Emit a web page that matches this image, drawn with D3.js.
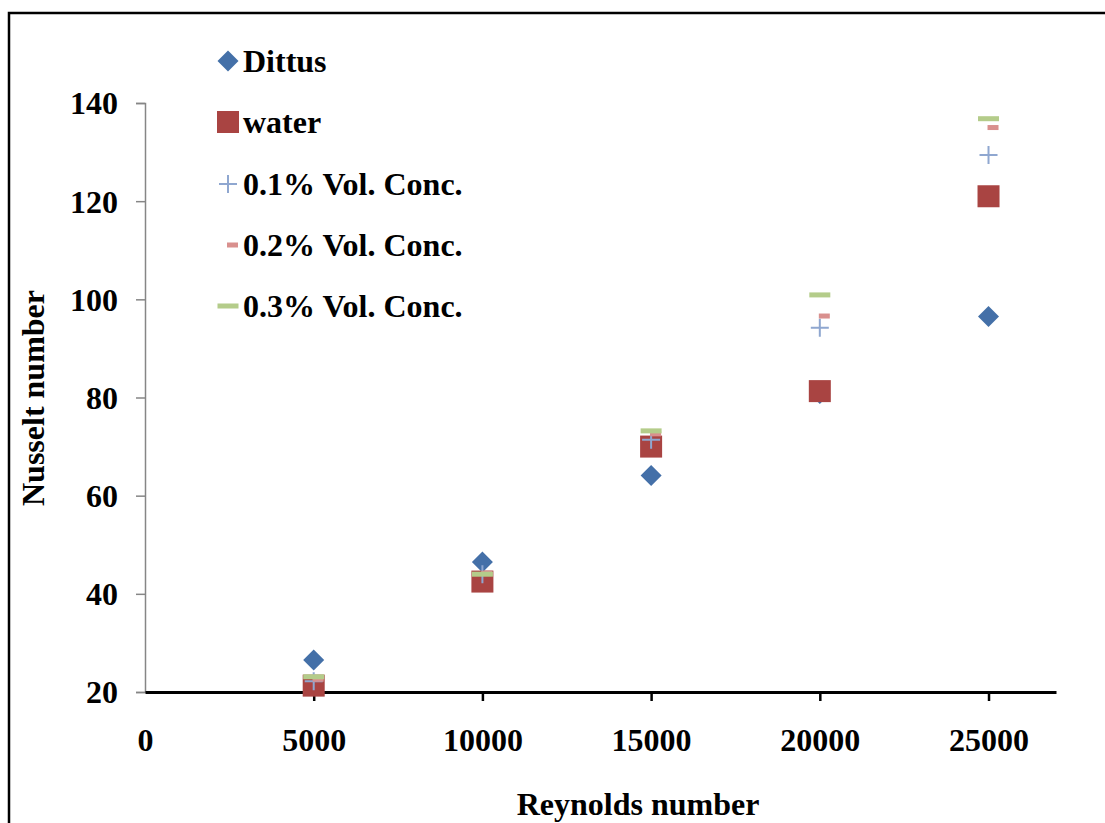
<!DOCTYPE html>
<html><head><meta charset="utf-8">
<script src="https://cdn.jsdelivr.net/npm/d3@7/dist/d3.min.js"></script>
<style>body{margin:0;background:#fff}svg{display:block}text{font-family:"Liberation Serif","Times New Roman",serif;font-weight:bold;fill:#000}</style>
</head><body>
<script>
const reynolds = [5000, 10000, 15000, 20000, 25000];
const dittus = [26.5, 46.5, 64.1, 80.8, 96.5];
const water = [21.3, 42.5, 70.0, 81.3, 121.0];
const conc01 = [22.2, 44.0, 71.4, 94.2, 129.4];
const conc02 = [22.6, 44.2, 72.6, 96.6, 135.0];
const conc03 = [23.1, 44.0, 73.2, 100.9, 136.8];
const seriesNames = ["Dittus", "water", "0.1% Vol. Conc.", "0.2% Vol. Conc.", "0.3% Vol. Conc."];
const xTicks = [0, 5000, 10000, 15000, 20000, 25000];
const yTicks = [20, 40, 60, 80, 100, 120, 140];

const W = 1105, H = 823, FS = 32;
const svg = d3.select("body").append("svg").attr("width", W).attr("height", H);
svg.append("rect").attr("x", 9).attr("y", 13).attr("width", W).attr("height", H)
  .attr("fill", "none").attr("stroke", "#000").attr("stroke-width", 2.5);

const x = d3.scaleLinear().domain([0, 27000]).range([145, 1056]);
const y = d3.scaleLinear().domain([20, 140]).range([692, 103]);

// y axis
const ya = svg.append("g").attr("transform", "translate(145,0)")
  .call(d3.axisLeft(y).tickValues(yTicks).tickSize(9).tickPadding(0).tickFormat(d3.format("d")));
ya.select(".domain").attr("stroke", "#868686").attr("stroke-width", 1.5);
ya.selectAll(".tick line").attr("stroke", "#868686").attr("stroke-width", 1.5);
ya.selectAll(".tick text").attr("x", -27).attr("dy", "0.34em").attr("font-size", FS)
  .style("font-family", "'Liberation Serif',serif").style("font-weight", "bold").attr("fill", "#000");

// x axis
const xa = svg.append("g").attr("transform", "translate(0,692)")
  .call(d3.axisBottom(x).tickValues(xTicks).tickSize(9).tickSizeOuter(0).tickPadding(0).tickFormat(d3.format("d")));
xa.select(".domain").attr("stroke", "#000").attr("stroke-width", 3);
xa.selectAll(".tick line").attr("stroke", "#000").attr("stroke-width", 2.5);
xa.selectAll(".tick").filter(d => d === 0).select("line").remove();
xa.selectAll(".tick text").attr("y", 59).attr("dy", 0).attr("font-size", FS)
  .style("font-family", "'Liberation Serif',serif").style("font-weight", "bold").attr("fill", "#000");

// titles
svg.append("text").attr("x", 638).attr("y", 815).attr("text-anchor", "middle").attr("font-size", FS).text("Reynolds number");
svg.append("text").attr("transform", "translate(44,398) rotate(-90)").attr("text-anchor", "middle").attr("font-size", FS).text("Nusselt number");

const C = {dittus: "#4470A8", water: "#A94442", c1: "#8FA7D0", c2: "#D9908E", c3: "#B4CC8A"};

function diamond(g, cx, cy) { g.append("path").attr("d", `M${cx},${cy-10.5}L${cx+10.5},${cy}L${cx},${cy+10.5}L${cx-10.5},${cy}Z`).attr("fill", C.dittus); }
function square(g, cx, cy) { g.append("rect").attr("x", cx-11).attr("y", cy-11).attr("width", 22).attr("height", 22).attr("fill", C.water); }
function cross(g, cx, cy) { g.append("path").attr("d", `M${cx-9},${cy}H${cx+9}M${cx},${cy-9}V${cy+9}`).attr("stroke", C.c1).attr("stroke-width", 2).attr("fill", "none"); }
function dash2(g, cx, cy) { g.append("rect").attr("x", cx-1).attr("y", cy-2.5).attr("width", 11).attr("height", 5).attr("fill", C.c2); }
function dash3(g, cx, cy) { g.append("rect").attr("x", cx-10.5).attr("y", cy-2.5).attr("width", 21).attr("height", 5).attr("fill", C.c3); }

const series = [[dittus, diamond], [water, square], [conc01, cross], [conc02, dash2], [conc03, dash3]];
const pg = svg.append("g");
series.forEach(([vals, fn]) => vals.forEach((v, i) => fn(pg, x(reynolds[i]), y(v))));

// legend
const lg = svg.append("g");
const rowY = [61, 122, 184, 245, 306];
series.forEach(([vals, fn], i) => {
  fn(lg, 228, rowY[i]);
  lg.append("text").attr("x", 243).attr("y", rowY[i] + 11).attr("font-size", FS).text(seriesNames[i]);
});
</script>
</body></html>
